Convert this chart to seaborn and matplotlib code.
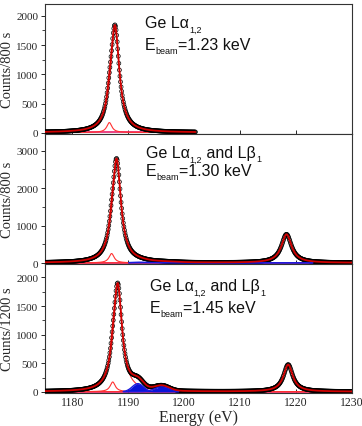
import numpy as np
import pandas as pd
import matplotlib
matplotlib.use("Agg")
import matplotlib.pyplot as plt
import seaborn as sns
from matplotlib.ticker import MultipleLocator
from matplotlib.transforms import offset_copy

# fitted peak parameters: centre (eV), height (counts), half width (eV)
# panel 1: Ebeam = 1.23 keV
p1_red_centers = [1187.6, 1186.6]
p1_red_heights = [1800, 170]
p1_red_widths = [0.95, 0.55]
p1_range = (1175.0, 1202.0)

# panel 2: Ebeam = 1.30 keV
p2_red_centers = [1187.9, 1187.0, 1218.3]
p2_red_heights = [2720, 250, 760]
p2_red_widths = [0.95, 0.55, 1.1]
p2_blue_centers = [1192.0, 1196.5]
p2_blue_heights = [18, 12]
p2_blue_widths = [1.5, 2.0]
p2_range = (1175.0, 1230.0)

# panel 3: Ebeam = 1.45 keV
p3_red_centers = [1188.1, 1187.2, 1218.6]
p3_red_heights = [1850, 170, 470]
p3_red_widths = [0.95, 0.55, 1.0]
p3_blue_centers = [1191.7, 1196.0]
p3_blue_heights = [140, 85]
p3_blue_widths = [1.0, 1.3]
p3_range = (1175.0, 1230.0)

baseline = 5
step = 0.1

# text pieces: (text, is_subscript)
titles = [
    [("Ge L\u03b1", False), ("1,2", True)],
    [("Ge L\u03b1", False), ("1,2", True), (" and L\u03b2", False), ("1", True)],
    [("Ge L\u03b1", False), ("1,2", True), (" and L\u03b2", False), ("1", True)],
]
beams = [
    [("E", False), ("beam", True), ("=1.23 keV", False)],
    [("E", False), ("beam", True), ("=1.30 keV", False)],
    [("E", False), ("beam", True), ("=1.45 keV", False)],
]
ylabels = ["Counts/800 s", "Counts/800 s", "Counts/1200 s"]


def lorentz(x, c, h, w):
    return h / (1 + ((x - c) / w) ** 2)


def gauss(x, c, h, w):
    return h * np.exp(-0.5 * ((x - c) / w) ** 2)


def rich_text(ax, x, y, pieces, sub_drop):
    # draw main text and subscripts one after another
    fig = ax.figure
    renderer = fig.canvas.get_renderer()
    trans = ax.transAxes
    dx = 0
    for s, sub in pieces:
        t = offset_copy(trans, fig=fig, x=dx, y=(-sub_drop if sub else 0), units='points')
        txt = ax.text(x, y, s, transform=t, fontsize=(6.5 if sub else 11.5),
                      family=['Liberation Sans', 'DejaVu Sans'], va='baseline', ha='left',
                      color='#111111')
        bb = txt.get_window_extent(renderer=renderer)
        dx += bb.width * 72 / fig.dpi


sns.set_style("ticks")
plt.rcParams['font.family'] = ['Liberation Serif', 'DejaVu Serif']

fig = plt.figure(figsize=(3.62, 4.27), dpi=100)
ax1 = fig.add_axes([0.123, 0.684, 0.849, 0.304])
ax2 = fig.add_axes([0.123, 0.379, 0.849, 0.305])
ax3 = fig.add_axes([0.123, 0.077, 0.849, 0.302])

panels = [
    (ax1, p1_range, p1_red_centers, p1_red_heights, p1_red_widths, [], [], [], None, (-20, 2200), 500),
    (ax2, p2_range, p2_red_centers, p2_red_heights, p2_red_widths,
     p2_blue_centers, p2_blue_heights, p2_blue_widths, (1190, 1223), (-30, 3450), 1000),
    (ax3, p3_range, p3_red_centers, p3_red_heights, p3_red_widths,
     p3_blue_centers, p3_blue_heights, p3_blue_widths, (1189, 1199), (-20, 2230), 500),
]

text_y = [(0.823, 0.654), (0.826, 0.683), (0.80, 0.628)]
text_x = [0.327, 0.33, 0.343]

for i, (ax, rng, rc, rh, rw, bc, bh, bw, brng, ylim, major) in enumerate(panels):
    x = np.arange(rng[0], rng[1] + step / 2, step)
    reds = [lorentz(x, c, h, w) for c, h, w in zip(rc, rh, rw)]
    blues = [gauss(x, c, h, w) for c, h, w in zip(bc, bh, bw)]
    total = baseline + sum(reds) + (sum(blues) if blues else 0)

    df = pd.DataFrame({'energy': x, 'counts': total})

    # baseline
    ax.plot(x, np.full_like(x, baseline), color='#e8206e', lw=1.2, zorder=2)

    # red components
    for r in reds:
        ax.plot(x, baseline + r, color='#ff3030', lw=0.8, zorder=3)

    # measured points
    sns.scatterplot(data=df, x='energy', y='counts', ax=ax, marker='o', s=8,
                    facecolor='none', edgecolor='black', linewidth=0.5, zorder=4)

    # blue components
    if blues:
        m = (x >= brng[0]) & (x <= brng[1])
        for b in blues:
            if i == 2:
                ax.fill_between(x[m], baseline, baseline + b[m], color='#0a14d8', lw=0, zorder=5)
            ax.plot(x[m], baseline + b[m], color='#1a1ae0', lw=1.0, zorder=5)

    # total fit
    sns.lineplot(data=df, x='energy', y='counts', ax=ax, color='#d00000', lw=1.3,
                 estimator=None, sort=False, zorder=6)

    ax.set_xlim(1175, 1230)
    ax.set_ylim(*ylim)
    ax.yaxis.set_major_locator(MultipleLocator(major))
    ax.yaxis.set_minor_locator(MultipleLocator(major / 2))
    ax.xaxis.set_major_locator(MultipleLocator(10))
    ax.tick_params(axis='y', which='major', direction='out', length=3, width=0.7, labelsize=8, pad=1.5)
    ax.tick_params(axis='y', which='minor', direction='out', length=2, width=0.6)
    ax.tick_params(axis='x', which='major', direction='in', length=3, width=0.7, labelsize=8.5, pad=2)
    for sp in ax.spines.values():
        sp.set_linewidth(0.8)
        sp.set_color('#333333')
    ax.set_ylabel(ylabels[i], fontsize=10.5)
    ax.yaxis.set_label_coords(-0.098, 0.5)
    ax.set_xlabel('')

    rich_text(ax, text_x[i], text_y[i][0], titles[i], sub_drop=3.5)
    rich_text(ax, text_x[i], text_y[i][1], beams[i], sub_drop=3.0)

ax1.tick_params(axis='x', labelbottom=False)
ax2.tick_params(axis='x', labelbottom=False)
ax3.set_xlabel('Energy (eV)', fontsize=11.5, labelpad=1)

fig.savefig('out.png', dpi=100)
